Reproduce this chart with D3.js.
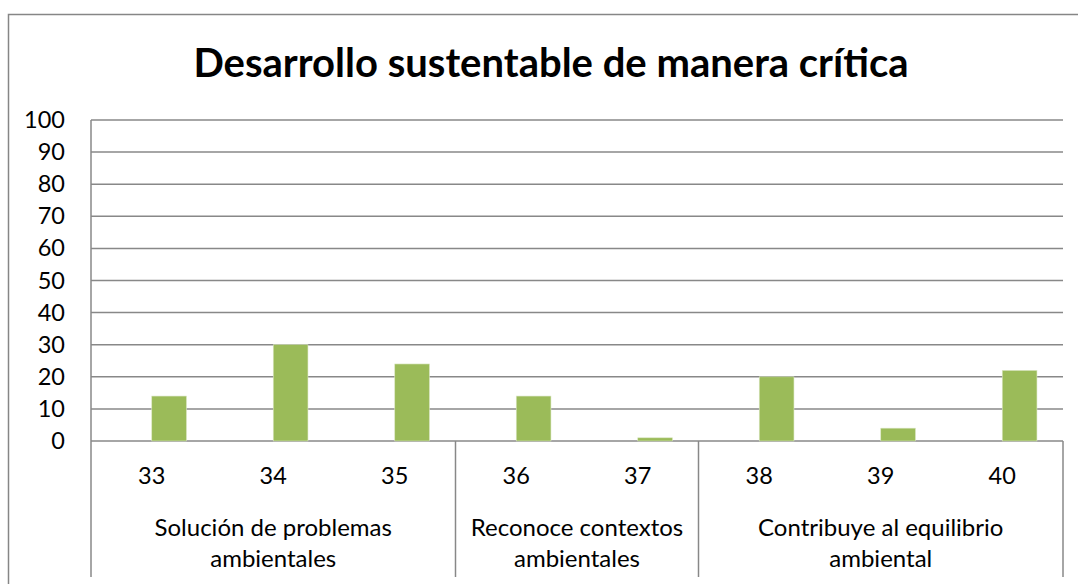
<!DOCTYPE html>
<html><head><meta charset="utf-8">
<script src="https://cdn.jsdelivr.net/npm/d3@7/dist/d3.min.js"></script>
<style>body{margin:0;background:#fff}svg{display:block}text{font-family:Lato,"Open Sans",sans-serif;fill:#000}</style>
</head><body>
<script>
const title = "Desarrollo sustentable de manera crítica";
const categories = ["33","34","35","36","37","38","39","40"];
const values = [14, 30, 24, 14, 1, 20, 4, 22];
const groupNames = [["Solución de problemas","ambientales"],["Reconoce contextos","ambientales"],["Contribuye al equilibrio","ambiental"]];
const groupSizes = [3, 2, 3];
const yTicks = [0,10,20,30,40,50,60,70,80,90,100];

const W = 1078, H = 584;
const m = {left: 91, right: 1063, top: 120, bottom: 441};
const svg = d3.select("body").append("svg").attr("width", W).attr("height", H);

// outer border
svg.append("path").attr("d", `M8.5,${H} V14.5 H${W}`).attr("fill","none").attr("stroke","#868686").attr("stroke-width",1.5);

svg.append("text").attr("x", 551).attr("y", 77).attr("text-anchor","middle")
  .style("font-size","40px").style("font-weight","bold").text(title);

const x = d3.scaleBand().domain(categories).range([m.left, m.right]).padding(0);
const y = d3.scaleLinear().domain([0,100]).range([m.bottom, m.top]);

// gridlines
svg.append("g").selectAll("line").data(yTicks).join("line")
  .attr("x1", m.left).attr("x2", m.right).attr("y1", d=>y(d)).attr("y2", d=>y(d))
  .attr("stroke","#888").attr("stroke-width",1.5);

// y axis
const yAxis = svg.append("g").attr("transform",`translate(${m.left},0)`)
  .call(d3.axisLeft(y).tickValues(yTicks).tickSize(0).tickPadding(26));
yAxis.select(".domain").remove();
yAxis.selectAll("text").style("font-size","23.5px").style("font-family","Lato,sans-serif").attr("fill","#000");
svg.append("line").attr("x1",m.left).attr("x2",m.left).attr("y1",m.top).attr("y2",577)
  .attr("stroke","#888").attr("stroke-width",1.5);

// bars: second series of a 2-series cluster (gap 150%)
const bw = x.bandwidth()/3.5;
svg.append("g").selectAll("rect").data(values).join("rect")
  .attr("x", (d,i)=>x(categories[i]) + x.bandwidth()/2)
  .attr("width", bw)
  .attr("y", d=>y(d)).attr("height", d=>y(0)-y(d))
  .attr("fill","#9BBB59").attr("stroke","#dbe7c4").attr("stroke-width",0.6);

// category labels
svg.append("g").selectAll("text").data(categories).join("text")
  .attr("x", d=>x(d)+x.bandwidth()/2).attr("y", 476).attr("dy","0.35em")
  .attr("text-anchor","middle").style("font-size","23.5px").text(d=>d);

// group separators and labels
let start = 0;
const bounds = [0];
groupSizes.forEach(s=>{ start += s; bounds.push(start); });
svg.append("g").selectAll("line").data(bounds.slice(1)).join("line")
  .attr("x1", d=> d < categories.length ? x(categories[d]) : m.right)
  .attr("x2", d=> d < categories.length ? x(categories[d]) : m.right)
  .attr("y1", m.bottom).attr("y2", 577).attr("stroke","#888").attr("stroke-width",1.5);
groupNames.forEach((g,i)=>{
  const x0 = x(categories[bounds[i]]);
  const x1 = bounds[i+1] < categories.length ? x(categories[bounds[i+1]]) : m.right;
  const t = svg.append("text").attr("x",(x0+x1)/2).attr("text-anchor","middle").style("font-size","24px");
  g.forEach((line,j)=> t.append("tspan").attr("x",(x0+x1)/2).attr("y", 528 + j*31).attr("dy","0.35em").text(line));
});
</script>
</body></html>
